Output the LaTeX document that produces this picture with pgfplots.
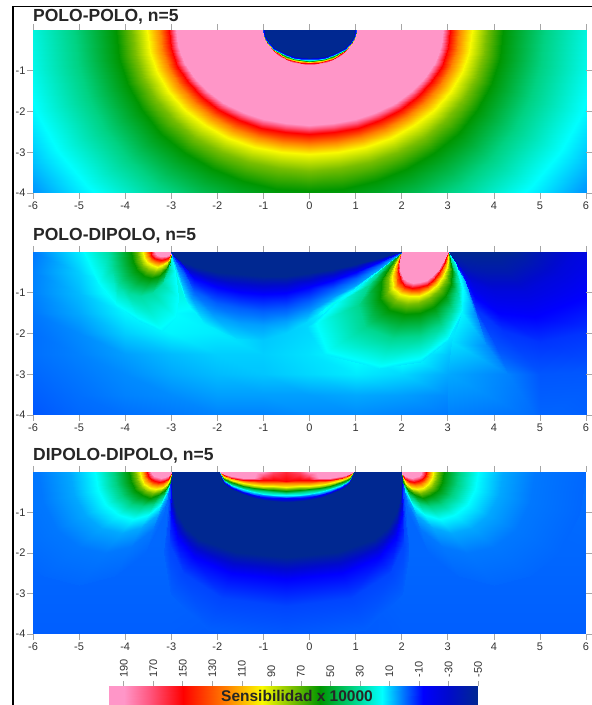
\documentclass[border=0pt]{standalone}
\usepackage{pgfplots}
\usepackage{pgfplotstable}
\pgfplotsset{compat=1.18}
\usepackage{fontspec}
\setmainfont{Liberation Sans}
\pgfplotsset{
 colormap={sens}{rgb255(-50)=(0,40,145) rgb255(-30)=(0,10,205) rgb255(-13)=(0,0,255) rgb255(1)=(0,120,255) rgb255(15)=(0,255,255) rgb255(35)=(0,210,130) rgb255(57)=(0,150,0) rgb255(75)=(120,190,0) rgb255(96)=(250,250,0) rgb255(120)=(255,130,0) rgb255(150)=(255,0,0) rgb255(172)=(255,85,125) rgb255(190)=(255,150,200) rgb255(200)=(255,150,200)},
 panel/.style={scale only axis,width=553pt,anchor=south west,view={0}{90},xmin=-6,xmax=6,ymin=-4,ymax=0,
  xtick={-6,-5,-4,-3,-2,-1,0,1,2,3,4,5,6},xticklabels={-6,-5,-4,-3,-2,-1,0,1,2,3,4,5,6},
  ytick={-4,-3,-2,-1},yticklabels={-4,-3,-2,-1},ztick=\empty,
  tick align=outside,major tick length=6pt,tick style={black!35,line width=.6pt},
  axis line style={draw=none},tick label style={font=\fontsize{11}{12}\selectfont,text=black!80},
  xticklabel style={yshift=1pt},yticklabel style={xshift=2pt},
  point meta min=-50,point meta max=200,colormap name=sens},
 field/.style={surf,shader=interp,point meta=explicit}
}
% panel 1, left half; rows are contour levels
\pgfplotstableread[row sep=\\,header=false]{
0 0 -50\\0 0 -50\\0 0 -50\\0 0 -50\\0 0 -50\\0 0 -50\\0 0 -50\\0 0 -50\\0 0 -50\\0 0 -50\\
-.97 0 -50\\-.955 -.118 -50\\-.912 -.233 -50\\-.84 -.34 -50\\-.743 -.437 -50\\-.624 -.521 -50\\-.485 -.589 -50\\-.332 -.639 -50\\-.169 -.67 -50\\0 -.68 -50\\
-1 0 -5\\-.985 -.125 -5\\-.94 -.246 -5\\-.866 -.36 -5\\-.766 -.463 -5\\-.643 -.552 -5\\-.5 -.624 -5\\-.342 -.677 -5\\-.174 -.709 -5\\0 -.72 -5\\
-1 0 40\\-.985 -.131 40\\-.94 -.257 40\\-.866 -.375 40\\-.766 -.482 40\\-.643 -.575 40\\-.5 -.65 40\\-.342 -.705 40\\-.174 -.739 40\\0 -.75 40\\
-1 0 90\\-.985 -.136 90\\-.94 -.267 90\\-.866 -.39 90\\-.766 -.502 90\\-.643 -.597 90\\-.5 -.675 90\\-.342 -.733 90\\-.174 -.768 90\\0 -.78 90\\
-1 0 150\\-.985 -.141 150\\-.94 -.277 150\\-.866 -.405 150\\-.766 -.521 150\\-.643 -.62 150\\-.5 -.701 150\\-.342 -.761 150\\-.174 -.798 150\\0 -.81 150\\
-1 0 195\\-.985 -.148 195\\-.94 -.291 195\\-.866 -.425 195\\-.766 -.547 195\\-.643 -.651 195\\-.5 -.736 195\\-.342 -.799 195\\-.174 -.837 195\\0 -.85 195\\
-2.88 0 195\\-2.837 -.4 195\\-2.707 -.787 195\\-2.494 -1.15 195\\-2.206 -1.479 195\\-1.852 -1.762 195\\-1.44 -1.992 195\\-.985 -2.162 195\\-.501 -2.266 195\\0 -2.3 195\\
-3.05 0 150\\-3.004 -.444 150\\-2.867 -.872 150\\-2.641 -1.275 150\\-2.336 -1.64 150\\-1.961 -1.953 150\\-1.525 -2.208 150\\-1.043 -2.397 150\\-.531 -2.512 150\\0 -2.55 150\\
-3.25 0 120\\-3.201 -.487 120\\-3.055 -.958 120\\-2.815 -1.4 120\\-2.49 -1.8 120\\-2.09 -2.145 120\\-1.625 -2.425 120\\-1.112 -2.632 120\\-.566 -2.758 120\\0 -2.8 120\\
-3.52 0 96\\-3.467 -.531 96\\-3.309 -1.043 96\\-3.048 -1.525 96\\-2.696 -1.961 96\\-2.263 -2.336 96\\-1.76 -2.641 96\\-1.204 -2.867 96\\-.612 -3.004 96\\0 -3.05 96\\
-3.85 0 75\\-3.792 -.6 75\\-3.619 -1.18 75\\-3.334 -1.725 75\\-2.949 -2.218 75\\-2.476 -2.643 75\\-1.925 -2.988 75\\-1.317 -3.243 75\\-.67 -3.398 75\\0 -3.45 75\\
-4.2 0 57\\-4.137 -.687 57\\-3.948 -1.351 57\\-3.637 -1.975 57\\-3.217 -2.54 57\\-2.701 -3.026 57\\-2.1 -3.421 57\\-1.436 -3.713 57\\-.731 -3.891 57\\0 -3.95 57\\
-5.1 0 35\\-5.024 -.861 35\\-4.794 -1.693 35\\-4.417 -2.475 35\\-3.907 -3.183 35\\-3.279 -3.792 35\\-2.55 -4.287 35\\-1.744 -4.653 35\\-.887 -4.876 35\\0 -4.95 35\\
-6.3 0 15\\-6.206 -1.035 15\\-5.922 -2.035 15\\-5.456 -2.975 15\\-4.826 -3.826 15\\-4.051 -4.558 15\\-3.15 -5.153 15\\-2.155 -5.593 15\\-1.096 -5.861 15\\0 -5.95 15\\
-7.2 0 5\\-7.092 -1.2 5\\-6.768 -2.36 5\\-6.235 -3.45 5\\-5.515 -4.437 5\\-4.63 -5.285 5\\-3.6 -5.975 5\\-2.462 -6.486 5\\-1.253 -6.797 5\\0 -6.9 5\\
-8.5 0 -5\\-8.373 -1.479 -5\\-7.99 -2.907 -5\\-7.361 -4.25 -5\\-6.511 -5.466 -5\\-5.466 -6.511 -5\\-4.25 -7.361 -5\\-2.907 -7.99 -5\\-1.479 -8.373 -5\\0 -8.5 -5\\
}\pOne
% panel 2, background
\pgfplotstableread[row sep=\\,header=false]{
-6 0 1\\-5 0 13\\-4 0 30\\-3 0 30\\-2 0 15\\-1 0 10\\0 0 10\\1 0 10\\2 0 15\\3 0 15\\4 0 5\\
-6 -.5 2\\-5 -.5 10\\-4 -.5 25\\-3 -.5 20\\-2 -.5 15\\-1 -.5 10\\0 -.5 10\\1 -.5 10\\2 -.5 15\\3 -.5 15\\4 -.5 5\\
-6 -1 2\\-5 -1 8\\-4 -1 20\\-3 -1 20\\-2 -1 15\\-1 -1 10\\0 -1 10\\1 -1 15\\2 -1 20\\3 -1 15\\4 -1 5\\
-6 -1.5 1\\-5 -1.5 6\\-4 -1.5 14\\-3 -1.5 15\\-2 -1.5 12\\-1 -1.5 8\\0 -1.5 11\\1 -1.5 24\\2 -1.5 35\\3 -1.5 15\\4 -1.5 3\\
-6 -2 0\\-5 -2 3\\-4 -2 10\\-3 -2 14\\-2 -2 13\\-1 -2 9\\0 -2 11\\1 -2 20\\2 -2 28\\3 -2 14\\4 -2 2\\
-6 -2.5 0\\-5 -2.5 2\\-4 -2.5 5\\-3 -2.5 8\\-2 -2.5 10\\-1 -2.5 10\\0 -2.5 12\\1 -2.5 16\\2 -2.5 18\\3 -2.5 9\\4 -2.5 1\\
-6 -3 -1\\-5 -3 1\\-4 -3 3\\-3 -3 6\\-2 -3 8\\-1 -3 9\\0 -3 11\\1 -3 13\\2 -3 11\\3 -3 6\\4 -3 0\\
-6 -3.5 -2\\-5 -3.5 0\\-4 -3.5 2\\-3 -3.5 3\\-2 -3.5 5\\-1 -3.5 5\\0 -3.5 5\\1 -3.5 6\\2 -3.5 5\\3 -3.5 3\\4 -3.5 -1\\
-6 -4 -3\\-5 -4 -1\\-4 -4 0\\-3 -4 1\\-2 -4 2\\-1 -4 2\\0 -4 3\\1 -4 3\\2 -4 2\\3 -4 1\\4 -4 -1\\
}\pTwoBg
% panel 2, right of the dipole
\pgfplotstableread[row sep=\\,header=false]{
3 0 -50\\3.2 0 -50\\3.45 0 -50\\3.7 0 -50\\4 0 -50\\4.3 0 -50\\4.6 0 -50\\
3 0 -40\\3.2 -.25 -40\\3.5 -.42 -40\\3.85 -.5 -40\\4.3 -.48 -40\\4.7 -.25 -40\\4.9 0 -40\\
3 0 -25\\3.28 -.4 -25\\3.55 -.75 -25\\4 -.95 -25\\4.7 -.95 -25\\5.4 -.55 -25\\5.8 0 -25\\
3 0 -13\\3.33 -.55 -13\\3.6 -1.1 -13\\4.1 -1.5 -13\\4.9 -1.6 -13\\6 -1.1 -13\\7.2 0 -13\\
3 0 -7\\3.38 -.65 -7\\3.62 -1.4 -7\\4.2 -1.95 -7\\5 -2.2 -7\\6.3 -1.9 -7\\8.5 0 -7\\
3 0 -3\\3.42 -.75 -3\\3.65 -1.6 -3\\4.1 -2.4 -3\\5 -3 -3\\6.5 -2.9 -3\\9.5 0 -3\\
3 0 3\\3.45 -.8 3\\3.6 -1.5 3\\3.85 -2.3 3\\4.3 -3 2\\5 -4.2 -1\\9 -5 -3\\
3 0 15\\3.2 -.3 15\\3.34 -.9 15\\3.3 -1.5 14\\3.1 -2.2 12\\3 -3 6\\3 -4.2 1\\
}\pTwoD
% panel 2, lobe left of -3
\pgfplotstableread[row sep=\\,header=false]{
-3.35 0 195\\-3.336 0 195\\-3.299 0 195\\-3.242 0 195\\-3.175 0 195\\-3.109 0 195\\-3.051 0 195\\-3.014 0 195\\-3 0 195\\
-3.35 0 190\\-3.336 -.038 190\\-3.299 -.071 190\\-3.242 -.092 190\\-3.175 -.1 190\\-3.109 -.092 190\\-3.051 -.071 190\\-3.014 -.038 190\\-3 0 190\\
-3.45 0 150\\-3.432 -.076 150\\-3.385 -.142 150\\-3.31 -.184 150\\-3.225 -.2 150\\-3.14 -.184 150\\-3.065 -.142 150\\-3.018 -.076 150\\-3 0 150\\
-3.52 0 120\\-3.499 -.103 120\\-3.445 -.192 120\\-3.359 -.248 120\\-3.26 -.27 120\\-3.161 -.248 120\\-3.075 -.192 120\\-3.021 -.103 120\\-3 0 120\\
-3.62 0 96\\-3.595 -.137 96\\-3.53 -.256 96\\-3.428 -.331 96\\-3.31 -.36 96\\-3.192 -.331 96\\-3.09 -.256 96\\-3.025 -.137 96\\-3 0 96\\
-3.72 0 75\\-3.691 -.182 75\\-3.616 -.341 75\\-3.497 -.442 75\\-3.36 -.48 75\\-3.223 -.442 75\\-3.104 -.341 75\\-3.029 -.182 75\\-3 0 75\\
-3.87 0 57\\-3.835 -.239 57\\-3.744 -.447 57\\-3.6 -.58 57\\-3.435 -.63 57\\-3.27 -.58 57\\-3.126 -.447 57\\-3.035 -.239 57\\-3 0 57\\
-4.35 0 30\\-4.296 -.42 30\\-4.154 -.78 30\\-3.932 -1 30\\-3.675 -1.08 30\\-3.419 -1 30\\-3.196 -.78 30\\-3.054 -.42 30\\-3 0 30\\
-4.9 0 15\\-4.6 -.75 14.5\\-4.2 -1.3 14.5\\-3.7 -1.7 13\\-3.2 -1.95 13.5\\-2.9 -1.6 14.5\\-2.85 -1.1 15\\-2.92 -.5 15\\-3 0 15\\
}\pTwoE
% panel 2, lobe of the dipole 2..3
\pgfplotstableread[row sep=\\,header=false]{
2 0 195\\2.08 0 195\\2.17 0 195\\2.25 0 195\\2.33 0 195\\2.42 0 195\\2.5 0 195\\2.58 0 195\\2.67 0 195\\2.75 0 195\\2.83 0 195\\2.92 0 195\\3 0 195\\
2 0 190\\1.97 -.2 190\\1.96 -.43 190\\2.03 -.64 190\\2.12 -.72 190\\2.25 -.76 190\\2.4 -.74 190\\2.55 -.68 190\\2.67 -.57 190\\2.79 -.43 190\\2.88 -.26 190\\2.95 -.12 190\\3 0 190\\
2 0 150\\1.94 -.22 150\\1.93 -.47 150\\1.98 -.72 150\\2.08 -.83 150\\2.22 -.88 150\\2.38 -.87 150\\2.55 -.8 150\\2.7 -.66 150\\2.82 -.5 150\\2.91 -.3 150\\2.97 -.14 150\\3 0 150\\
2 0 120\\1.92 -.24 120\\1.87 -.52 120\\1.9 -.8 120\\2.02 -.93 120\\2.2 -.98 120\\2.38 -.97 120\\2.57 -.89 120\\2.73 -.74 120\\2.86 -.55 120\\2.94 -.33 120\\2.98 -.15 120\\3 0 120\\
2 0 96\\1.88 -.27 96\\1.8 -.58 96\\1.82 -.88 96\\1.96 -1.03 96\\2.17 -1.09 96\\2.37 -1.07 96\\2.58 -.98 96\\2.77 -.82 96\\2.9 -.6 96\\2.98 -.36 96\\3 -.16 96\\3 0 96\\
2 0 75\\1.83 -.3 75\\1.7 -.65 75\\1.7 -1 75\\1.87 -1.2 75\\2.12 -1.27 75\\2.36 -1.24 75\\2.6 -1.13 75\\2.82 -.93 75\\2.96 -.68 75\\3.02 -.4 75\\3.02 -.18 75\\3 0 75\\
2 0 57\\1.75 -.35 57\\1.55 -.72 57\\1.53 -1.15 57\\1.72 -1.42 57\\2.07 -1.53 57\\2.4 -1.5 57\\2.7 -1.35 57\\2.93 -1.08 57\\3.07 -.78 57\\3.1 -.45 57\\3.05 -.2 57\\3 0 57\\
2 0 33\\1.62 -.38 33\\1.3 -.8 33\\1.05 -1.3 33\\1.2 -1.85 33\\1.8 -2.1 33\\2.4 -2.05 33\\2.85 -1.8 33\\3.1 -1.4 33\\3.2 -.95 33\\3.18 -.55 33\\3.08 -.22 33\\3 0 33\\
2 0 15\\1.5 -.45 15\\1.05 -.88 15\\.5 -1.3 14\\-.05 -1.85 11\\.3 -2.5 13\\1.5 -2.85 13.5\\2.4 -2.7 12\\3 -2.15 12.5\\3.3 -1.45 14\\3.32 -.9 15\\3.18 -.3 15\\3 0 15\\
}\pTwoB
% panel 2, negative zone between -3 and 2
\pgfplotstableread[row sep=\\,header=false]{
-3 0 -50\\-2.8 0 -50\\-2.5 0 -50\\-2 0 -50\\-1.5 0 -50\\-1 0 -50\\-.5 0 -50\\0 0 -50\\.5 0 -50\\1 0 -50\\1.5 0 -50\\2 0 -50\\
-3 0 -50\\-2.8 -.2 -50\\-2.5 -.35 -50\\-2 -.5 -50\\-1.5 -.55 -50\\-1 -.58 -50\\-.5 -.58 -50\\0 -.52 -50\\.5 -.42 -50\\1 -.3 -50\\1.5 -.15 -50\\2 0 -50\\
-3 0 -13\\-2.75 -.35 -13\\-2.5 -.65 -13\\-2 -.85 -13\\-1.5 -.97 -13\\-1 -1.03 -13\\-.5 -1 -13\\0 -.85 -13\\.5 -.68 -13\\1 -.48 -13\\1.5 -.25 -13\\2 0 -13\\
-3 0 -2\\-2.75 -.5 -2\\-2.5 -.95 -2\\-2 -1.25 -2\\-1.5 -1.38 -2\\-1 -1.45 -2\\-.5 -1.4 -2\\0 -1.2 -2\\.5 -.92 -2\\1 -.65 -2\\1.5 -.33 -2\\2 0 -2\\
-3 0 5\\-2.8 -.6 5\\-2.55 -1.15 5\\-2.1 -1.55 5\\-1.5 -1.75 5\\-1 -1.8 5\\-.5 -1.7 5\\0 -1.47 5\\.5 -1.1 5\\1 -.8 5\\1.5 -.42 5\\2 0 5\\
-3 0 15\\-2.85 -.65 15\\-2.65 -1.25 14.5\\-2.3 -1.75 13\\-1.6 -2.1 11\\-1 -2.15 9.3\\-.5 -2 10\\-.1 -1.75 10.8\\.4 -1.3 13\\.9 -.95 15\\1.45 -.5 15\\2 0 15\\
}\pTwoL
% panel 3
\pgfplotstableread[row sep=\\,header=false]{
-6 0 0\\-3 0 -1\\-.5 0 -2\\2 0 -1\\6 0 0\\
-6 -2 -1\\-3 -2 -1\\-.5 -2 -3\\2 -2 -1\\6 -2 -1\\
-6 -4 -2\\-3 -4 -2\\-.5 -4 -3\\2 -4 -2\\6 -4 -2\\
}\pThrBg
\pgfplotstableread[row sep=\\,header=false]{
-3 0 -50\\-2.98 0 -50\\-2.92 0 -50\\-2.75 0 -50\\-2.4 0 -50\\-1.6 0 -50\\-.5 0 -50\\
-3 0 -50\\-2.98 -.5 -50\\-2.9 -.95 -50\\-2.7 -1.35 -50\\-2.4 -1.65 -50\\-1.6 -1.97 -50\\-.5 -2.1 -50\\
-3 0 -13\\-3 -.5 -13\\-3 -1 -13\\-2.88 -1.6 -13\\-2.5 -2.1 -13\\-1.7 -2.5 -13\\-.5 -2.65 -13\\
-3 0 -5\\-3.02 -.5 -5\\-3.05 -1.1 -5\\-3.03 -1.8 -5\\-2.75 -2.5 -5\\-1.9 -3.1 -5\\-.5 -3.3 -5\\
-3 0 -2\\-3.05 -.5 -2\\-3.1 -1.2 -2\\-3.15 -2 -2\\-3 -3 -2\\-2.2 -3.9 -2\\-.5 -4.2 -2\\
}\pThrC
\pgfplotstableread[row sep=\\,header=false]{
-3.43 0 195\\-3.413 0 195\\-3.368 0 195\\-3.297 0 195\\-3.215 0 195\\-3.133 0 195\\-3.062 0 195\\-3.017 0 195\\-3 0 195\\
-3.43 0 190\\-3.413 -.053 190\\-3.368 -.099 190\\-3.297 -.129 190\\-3.215 -.14 190\\-3.133 -.129 190\\-3.062 -.099 190\\-3.017 -.053 190\\-3 0 190\\
-3.52 0 150\\-3.499 -.091 150\\-3.445 -.17 150\\-3.359 -.221 150\\-3.26 -.24 150\\-3.161 -.221 150\\-3.075 -.17 150\\-3.021 -.091 150\\-3 0 150\\
-3.6 0 120\\-3.576 -.125 120\\-3.513 -.234 120\\-3.414 -.304 120\\-3.3 -.33 120\\-3.186 -.304 120\\-3.087 -.234 120\\-3.024 -.125 120\\-3 0 120\\
-3.68 0 96\\-3.653 -.16 96\\-3.581 -.298 96\\-3.469 -.386 96\\-3.34 -.42 96\\-3.211 -.386 96\\-3.099 -.298 96\\-3.027 -.16 96\\-3 0 96\\
-3.78 0 75\\-3.749 -.198 75\\-3.667 -.369 75\\-3.538 -.478 75\\-3.39 -.52 75\\-3.242 -.478 75\\-3.113 -.369 75\\-3.031 -.198 75\\-3 0 75\\
-3.92 0 57\\-3.883 -.239 57\\-3.787 -.447 57\\-3.635 -.58 57\\-3.46 -.63 57\\-3.285 -.58 57\\-3.133 -.447 57\\-3.037 -.239 57\\-3 0 57\\
-4.25 0 35\\-4.2 -.323 35\\-4.069 -.604 35\\-3.863 -.782 35\\-3.625 -.85 35\\-3.388 -.782 35\\-3.181 -.604 35\\-3.05 -.323 35\\-3 0 35\\
-4.65 0 15\\-4.584 -.437 15\\-4.411 -.817 15\\-4.139 -1.058 15\\-3.825 -1.15 15\\-3.512 -1.058 15\\-3.239 -.817 15\\-3.066 -.437 15\\-3 0 15\\
-5.2 0 6\\-5.112 -.57 6\\-4.881 -1.065 6\\-4.518 -1.38 6\\-4.1 -1.5 6\\-3.682 -1.38 6\\-3.319 -1.065 6\\-3.088 -.57 6\\-3 0 6\\
-5.9 0 1\\-5.784 -.76 1\\-5.48 -1.42 1\\-5.001 -1.84 1\\-4.45 -2 1\\-3.899 -1.84 1\\-3.42 -1.42 1\\-3.116 -.76 1\\-3 0 1\\
-7 0 -1\\-6.84 -1.064 -1\\-6.42 -1.988 -1\\-5.76 -2.576 -1\\-5 -2.8 -1\\-4.24 -2.576 -1\\-3.58 -1.988 -1\\-3.16 -1.064 -1\\-3 0 -1\\
}\pThrE
\pgfplotstableread[row sep=\\,header=false]{
-1.95 0 195\\-1.85 0 195\\-1.7 0 195\\-1.45 0 195\\-1.2 0 195\\-1 0 190\\-.8 0 170\\-.5 0 160\\
-1.95 0 190\\-1.85 -.05 190\\-1.7 -.11 190\\-1.45 -.15 190\\-1.2 -.15 190\\-1 -.08 175\\-.8 -.05 165\\-.5 -.05 158\\
-1.95 0 150\\-1.85 -.07 150\\-1.7 -.14 150\\-1.45 -.19 150\\-1.2 -.2 150\\-1 -.2 150\\-.8 -.2 150\\-.5 -.21 150\\
-1.95 0 120\\-1.85 -.09 120\\-1.7 -.16 120\\-1.45 -.21 120\\-1.2 -.245 120\\-1 -.263 120\\-.8 -.274 120\\-.5 -.28 120\\
-1.95 0 96\\-1.85 -.131 96\\-1.7 -.2 96\\-1.45 -.27 96\\-1.2 -.315 96\\-1 -.338 96\\-.8 -.353 96\\-.5 -.36 96\\
-1.95 0 75\\-1.85 -.15 75\\-1.7 -.23 75\\-1.45 -.31 75\\-1.2 -.36 75\\-1 -.385 75\\-.8 -.4 75\\-.5 -.41 75\\
-1.95 0 57\\-1.85 -.168 57\\-1.7 -.258 57\\-1.45 -.348 57\\-1.2 -.403 57\\-1 -.432 57\\-.8 -.451 57\\-.5 -.46 57\\
-1.95 0 35\\-1.85 -.186 35\\-1.7 -.286 35\\-1.45 -.386 35\\-1.2 -.447 35\\-1 -.479 35\\-.8 -.5 35\\-.5 -.51 35\\
-1.95 0 15\\-1.85 -.207 15\\-1.7 -.318 15\\-1.45 -.429 15\\-1.2 -.498 15\\-1 -.534 15\\-.8 -.557 15\\-.5 -.568 15\\
-1.95 0 1\\-1.85 -.223 1\\-1.7 -.342 1\\-1.45 -.461 1\\-1.2 -.534 1\\-1 -.573 1\\-.8 -.598 1\\-.5 -.61 1\\
-1.95 0 -13\\-1.85 -.237 -13\\-1.7 -.364 -13\\-1.45 -.491 -13\\-1.2 -.569 -13\\-1 -.611 -13\\-.8 -.637 -13\\-.5 -.65 -13\\
-1.95 0 -50\\-1.85 -.266 -50\\-1.7 -.409 -50\\-1.45 -.552 -50\\-1.2 -.639 -50\\-1 -.686 -50\\-.8 -.715 -50\\-.5 -.73 -50\\
}\pThrL
\begin{document}
\begin{tikzpicture}[x=1pt,y=1pt]
\path[use as bounding box] (0,0) rectangle (592,705);
\draw[line width=1.6pt] (13,0) -- (13,698.5) -- (592,698.5);
\begin{axis}[panel,height=163pt,at={(33pt,512pt)}]
\addplot3[field,mesh/rows=17,mesh/cols=10] table[x index=0,y index=1,z expr=0,meta index=2] {\pOne};
\addplot3[field,mesh/rows=17,mesh/cols=10] table[x expr=-\thisrowno{0},y index=1,z expr=0,meta index=2] {\pOne};
\end{axis}
\begin{axis}[panel,height=163pt,at={(33pt,290pt)}]
\addplot3[field,mesh/rows=9,mesh/cols=11] table[x index=0,y index=1,z expr=0,meta index=2] {\pTwoBg};
\addplot3[field,mesh/rows=8,mesh/cols=7] table[x index=0,y index=1,z expr=0,meta index=2] {\pTwoD};
\addplot3[field,mesh/rows=9,mesh/cols=9] table[x index=0,y index=1,z expr=0,meta index=2] {\pTwoE};
\addplot3[field,mesh/rows=9,mesh/cols=13] table[x index=0,y index=1,z expr=0,meta index=2] {\pTwoB};
\addplot3[field,mesh/rows=6,mesh/cols=12] table[x index=0,y index=1,z expr=0,meta index=2] {\pTwoL};
\end{axis}
\begin{axis}[panel,height=162pt,at={(33pt,71pt)}]
\addplot3[field,mesh/rows=3,mesh/cols=5] table[x index=0,y index=1,z expr=0,meta index=2] {\pThrBg};
\addplot3[field,mesh/rows=5,mesh/cols=7] table[x index=0,y index=1,z expr=0,meta index=2] {\pThrC};
\addplot3[field,mesh/rows=5,mesh/cols=7] table[x expr=-1-\thisrowno{0},y index=1,z expr=0,meta index=2] {\pThrC};
\addplot3[field,mesh/rows=12,mesh/cols=9] table[x index=0,y index=1,z expr=0,meta index=2] {\pThrE};
\addplot3[field,mesh/rows=12,mesh/cols=9] table[x expr=-1-\thisrowno{0},y index=1,z expr=0,meta index=2] {\pThrE};
\addplot3[field,mesh/rows=12,mesh/cols=8] table[x index=0,y index=1,z expr=0,meta index=2] {\pThrL};
\addplot3[field,mesh/rows=12,mesh/cols=8] table[x expr=-1-\thisrowno{0},y index=1,z expr=0,meta index=2] {\pThrL};
\end{axis}
\begin{axis}[scale only axis,width=369pt,height=19pt,at={(109pt,0pt)},anchor=south west,view={0}{90},x dir=reverse,xmin=-50,xmax=200,ymin=0,ymax=1,
 xtick={190,170,150,130,110,90,70,50,30,10,-10,-30,-50},xticklabels={190,170,150,130,110,90,70,50,30,10,-10,-30,-50},
 ytick=\empty,ztick=\empty,tick align=outside,major tick length=5pt,tick style={black!35,line width=.6pt},axis line style={draw=none},
 xtick pos=top,xticklabel pos=top,
 xticklabel style={rotate=90,anchor=west,font=\fontsize{11}{12}\selectfont,text=black!80,yshift=0pt},
 point meta min=-50,point meta max=200,colormap name=sens]
\addplot3[field,mesh/rows=2,mesh/cols=14] table[x index=0,y index=1,z expr=0,meta index=2,header=false,row sep=\\] {
-50 0 -50\\-30 0 -30\\-13 0 -13\\1 0 1\\15 0 15\\35 0 35\\57 0 57\\75 0 75\\96 0 96\\120 0 120\\150 0 150\\172 0 172\\190 0 190\\200 0 200\\
-50 1 -50\\-30 1 -30\\-13 1 -13\\1 1 1\\15 1 15\\35 1 35\\57 1 57\\75 1 75\\96 1 96\\120 1 120\\150 1 150\\172 1 172\\190 1 190\\200 1 200\\
};
\end{axis}
\node[font=\fontsize{17.5}{20}\selectfont\bfseries,anchor=west,inner sep=0pt,text=black!85] at (33,688) {POLO-POLO, n=5};
\node[font=\fontsize{17.5}{20}\selectfont\bfseries,anchor=west,inner sep=0pt,text=black!85] at (33,469) {POLO-DIPOLO, n=5};
\node[font=\fontsize{17.5}{20}\selectfont\bfseries,anchor=west,inner sep=0pt,text=black!85] at (33,249) {DIPOLO-DIPOLO, n=5};
\node[font=\fontsize{15.5}{18}\selectfont\bfseries,inner sep=0pt,text=black!85] at (297,9) {Sensibilidad x 10000};
\end{tikzpicture}
\end{document}
